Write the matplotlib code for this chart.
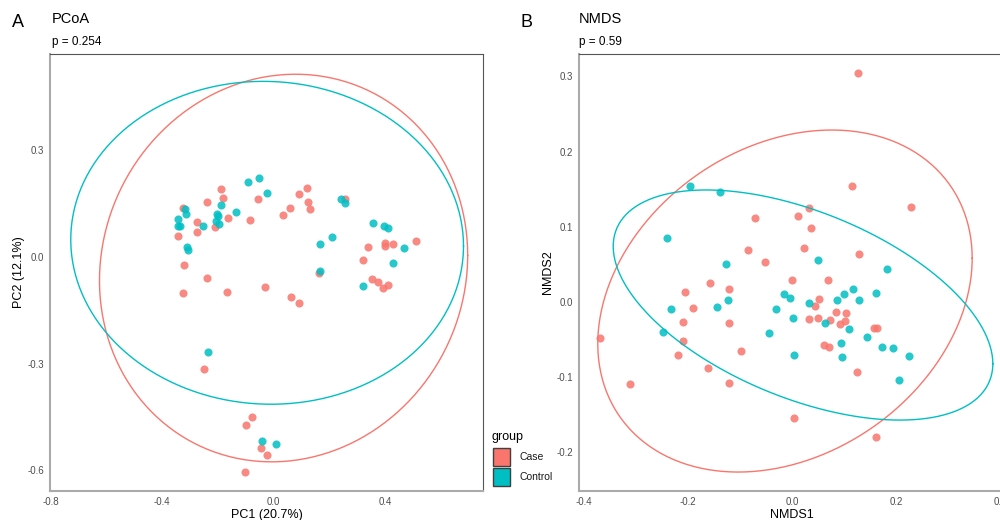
import numpy as np
import matplotlib
matplotlib.use("Agg")
import matplotlib.pyplot as plt
from matplotlib.patches import Rectangle

plt.rcParams['font.family'] = ['Liberation Sans', 'DejaVu Sans']

groups = ["Case", "Control"]
colors = {"Case": "#F8766D", "Control": "#00BFC4"}

# ---------------- Panel A: PCoA ----------------
pcoa_case_x = [-0.190, -0.180, -0.240, -0.326, -0.273, -0.275, -0.341, -0.210, -0.164, -0.085,
               -0.054, 0.035, 0.059, 0.091, 0.120, 0.123, 0.131, -0.322, -0.240, -0.326,
               -0.167, -0.030, 0.063, 0.092, 0.163, 0.257, 0.401, 0.400, 0.430, 0.339,
               0.511, 0.322, 0.352, 0.376, 0.409, 0.391, -0.248, -0.076, -0.098, -0.046,
               -0.024, -0.103]
pcoa_case_y = [0.190, 0.165, 0.155, 0.138, 0.099, 0.069, 0.059, 0.084, 0.109, 0.104,
               0.162, 0.117, 0.137, 0.176, 0.195, 0.156, 0.135, -0.023, -0.059, -0.102,
               -0.097, -0.083, -0.112, -0.130, -0.044, 0.164, 0.040, 0.032, 0.037, 0.029,
               0.046, -0.008, -0.062, -0.070, -0.078, -0.088, -0.316, -0.449, -0.473, -0.537,
               -0.558, -0.605]
pcoa_ctrl_x = [-0.091, -0.053, -0.023, -0.189, -0.318, -0.314, -0.341, -0.341, -0.337, -0.203,
               -0.200, -0.207, -0.195, -0.252, -0.134, -0.311, -0.305, 0.168, 0.211, 0.241,
               0.256, 0.355, 0.395, 0.409, 0.466, 0.428, 0.165, 0.320, -0.234, -0.042,
               0.010]
pcoa_ctrl_y = [0.210, 0.221, 0.179, 0.147, 0.136, 0.121, 0.108, 0.088, 0.088, 0.122,
               0.114, 0.101, 0.092, 0.086, 0.126, 0.028, 0.020, 0.036, 0.055, 0.164,
               0.152, 0.096, 0.088, 0.081, 0.026, -0.017, -0.039, -0.082, -0.266, -0.517,
               -0.525]
# ellipse parameters: centre x, centre y, half-range x, half-range y, correlation
pcoa_ell_case = [0.036, -0.031, 0.660, 0.545, 0.065]
pcoa_ell_ctrl = [-0.023, 0.040, 0.704, 0.454, -0.020]
pcoa_xticks = [-0.8, -0.4, 0.0, 0.4]
pcoa_yticks = [-0.6, -0.3, 0.0, 0.3]

# ---------------- Panel B: NMDS ----------------
nmds_case_x = [-0.0706, 0.0115, -0.0852, -0.0519, 0.0, -0.2052, -0.1583, -0.1217, -0.1898, -0.2096,
               -0.1217, -0.3687, -0.2096, -0.2187, -0.0975, -0.1621, -0.3115, -0.1206, 0.1275, 0.1148,
               0.2288, 0.0321, 0.0371, 0.0237, 0.1288, 0.0687, 0.0525, 0.0433, 0.0846, 0.1033,
               0.0333, 0.0500, 0.0731, 0.0919, 0.1013, 0.1583, 0.1631, 0.0619, 0.0717, 0.1250,
               0.0033, 0.1621]
nmds_case_y = [0.1113, 0.1148, 0.0695, 0.0532, 0.0289, 0.0133, 0.0249, 0.0173, -0.0076, -0.0266,
               -0.0279, -0.0475, -0.0523, -0.0709, -0.0652, -0.0882, -0.1090, -0.1081, 0.3045, 0.1539,
               0.1263, 0.1246, 0.0988, 0.0722, 0.0642, 0.0289, 0.0036, -0.0047, -0.0129, -0.0142,
               -0.0230, -0.0209, -0.0235, -0.0295, -0.0257, -0.0350, -0.0350, -0.0576, -0.0598, -0.0927,
               -0.1543, -0.1799]
nmds_ctrl_x = [-0.1956, -0.1390, -0.2398, -0.1275, -0.0154, -0.0029, -0.2327, -0.1448, -0.1237, -0.0308,
               0.0019, -0.2475, -0.0448, 0.0044, 0.0506, 0.1833, 0.1167, 0.1006, 0.0862, 0.1294,
               0.1610, 0.0333, 0.0635, 0.1092, 0.1442, 0.0942, 0.1737, 0.1937, 0.0962, 0.2250,
               0.2052]
nmds_ctrl_y = [0.1539, 0.1467, 0.0847, 0.0509, 0.0113, 0.0057, -0.0097, -0.0066, 0.0027, -0.0093,
               -0.0210, -0.0399, -0.0412, -0.0701, 0.0562, 0.0435, 0.0170, 0.0102, 0.0027, 0.0027,
               0.0116, -0.0016, -0.0279, -0.0355, -0.0469, -0.0549, -0.0602, -0.0609, -0.0725, -0.0718,
               -0.1033]
nmds_ell_case = [-0.0135, 0.0013, 0.360, 0.2274, 0.25]
nmds_ell_ctrl = [0.0212, -0.0040, 0.365, 0.153, -0.51]
nmds_xticks = [-0.4, -0.2, 0.0, 0.2, 0.4]
nmds_yticks = [-0.2, -0.1, 0.0, 0.1, 0.2, 0.3]


def ellipse_path(params, n=300):
    cx, cy, ax, ay, r = params
    t = np.linspace(0, 2 * np.pi, n)
    x = cx + ax * np.cos(t)
    y = cy + ay * (r * np.cos(t) + np.sqrt(1 - r * r) * np.sin(t))
    return x, y


def tick_fmt(v):
    s = f"{v:.1f}"
    return "0.0" if s == "-0.0" else s


fig = plt.figure(figsize=(10, 5.2), dpi=100)

# pixel boxes: A 50..483 x 54..491 ; B 579..1005 x 54..491
axA = fig.add_axes([0.050, 1 - 491 / 520, 0.433, 437 / 520])
axB = fig.add_axes([0.579, 1 - 491 / 520, 0.426, 437 / 520])


def style(ax, xt, yt, xlim, ylim, xlabel, ylabel, ylabelpad):
    ax.set_xlim(*xlim)
    ax.set_ylim(*ylim)
    ax.set_xticks(xt)
    ax.set_yticks(yt)
    ax.set_xticklabels([tick_fmt(v) for v in xt])
    ax.set_yticklabels([tick_fmt(v) for v in yt])
    ax.tick_params(length=0, labelsize=7, colors="#4D4D4D", pad=4)
    for s in ("top", "right"):
        ax.spines[s].set_color("#555555")
        ax.spines[s].set_linewidth(0.8)
    for s in ("left", "bottom"):
        ax.spines[s].set_color("#AAAAAA")
        ax.spines[s].set_linewidth(1.5)
    ax.set_xlabel(xlabel, fontsize=9, color="black", labelpad=2)
    ax.set_ylabel(ylabel, fontsize=9, color="black", labelpad=ylabelpad)


def draw(ax, cx, cy, tx, ty, ell_case, ell_ctrl):
    ax.scatter(cx, cy, s=34, color=colors["Case"], alpha=0.85, linewidths=0, zorder=3)
    ax.scatter(tx, ty, s=34, color=colors["Control"], alpha=0.85, linewidths=0, zorder=3)
    ex, ey = ellipse_path(ell_case)
    ax.plot(ex, ey, color=colors["Case"], lw=1.0, zorder=4)
    ex, ey = ellipse_path(ell_ctrl)
    ax.plot(ex, ey, color=colors["Control"], lw=1.0, zorder=4)


draw(axA, pcoa_case_x, pcoa_case_y, pcoa_ctrl_x, pcoa_ctrl_y, pcoa_ell_case, pcoa_ell_ctrl)
style(axA, pcoa_xticks, pcoa_yticks, (-0.8014, 0.7509), (-0.6580, 0.5709),
      "PC1 (20.7%)", "PC2 (12.1%)", 2)

draw(axB, nmds_case_x, nmds_case_y, nmds_ctrl_x, nmds_ctrl_y, nmds_ell_case, nmds_ell_ctrl)
style(axB, nmds_xticks, nmds_yticks, (-0.4096, 0.4096), (-0.2513, 0.3298),
      "NMDS1", "NMDS2", 2)

# titles
fig.text(0.012, 0.957, "A", fontsize=13, va="center", ha="left")
fig.text(0.052, 0.963, "PCoA", fontsize=10.5, va="center", ha="left")
fig.text(0.052, 0.920, "p = 0.254", fontsize=8.5, va="center", ha="left")
fig.text(0.520, 0.957, "B", fontsize=13, va="center", ha="left")
fig.text(0.579, 0.963, "NMDS", fontsize=10.5, va="center", ha="left")
fig.text(0.579, 0.920, "p = 0.59", fontsize=8.5, va="center", ha="left")

# legend
fig.text(0.491, 1 - 437 / 520, "group", fontsize=9, va="center", ha="left")
for i, g in enumerate(groups):
    y0 = 1 - (466 + i * 20) / 520
    fig.patches.append(Rectangle((0.493, y0), 0.017, 18 / 520, transform=fig.transFigure,
                                 facecolor=colors[g], edgecolor="#404040", lw=1.0))
    fig.text(0.519, y0 + 9 / 520, g, fontsize=7.5, va="center", ha="left", color="#1A1A1A")

fig.savefig("out.png", dpi=100)
